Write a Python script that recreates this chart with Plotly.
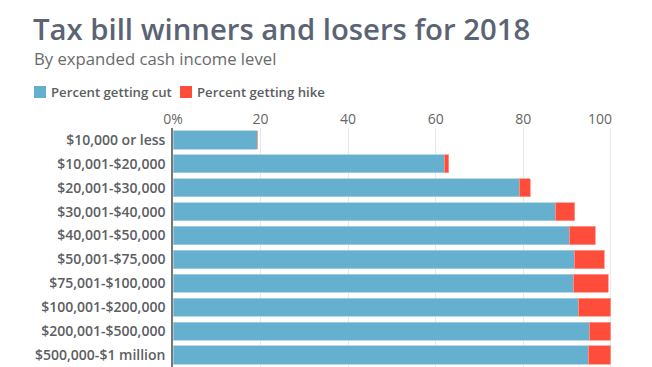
import plotly.graph_objects as go

categories = ["$10,000 or less", "$10,001-$20,000", "$20,001-$30,000", "$30,001-$40,000",
              "$40,001-$50,000", "$50,001-$75,000", "$75,001-$100,000", "$100,001-$200,000",
              "$200,001-$500,000", "$500,000-$1 million"]
pct_cut = [19.2, 61.9, 79.1, 87.3, 90.5, 91.6, 91.4, 92.6, 95.1, 94.9]
pct_hike = [0.0, 1.1, 2.5, 4.5, 5.9, 6.9, 8.0, 7.4, 4.9, 5.1]
tick_vals = [0, 20, 40, 60, 80, 100]
tick_text = ["0%", "20", "40", "60", "80", "100" + "\u00a0" * 6]

BLUE = "#65b0cf"
RED = "#fe4d3a"
GRAY = "#5b5e63"
FONT = "Open Sans"

L, R, T, B = 173, 39, 128, 0
PW = 652 - L - R
PH = 367 - T - B

fig = go.Figure()
fig.add_trace(go.Bar(y=categories, x=pct_cut, orientation="h", name="Percent getting cut",
                     marker=dict(color=BLUE, line=dict(color="#a9d2e3", width=0.8))))
fig.add_trace(go.Bar(y=categories, x=pct_hike, orientation="h", name="Percent getting hike",
                     marker=dict(color=RED, line=dict(color="#ff9a8e", width=0.8))))

fig.update_layout(
    width=652, height=367,
    barmode="stack", bargap=0.24,
    showlegend=False,
    paper_bgcolor="white", plot_bgcolor="white",
    margin=dict(l=L, r=R, t=T, b=B, autoexpand=False),
    font=dict(family=FONT, color=GRAY),
    xaxis=dict(range=[0, 100.5], side="top", tickvals=tick_vals, ticktext=tick_text,
               showgrid=True, gridcolor="#e8e8e8", gridwidth=1, zeroline=False,
               ticks="", tickfont=dict(size=14, color="#666666", family=FONT, weight=500),
               automargin=False, fixedrange=True),
    yaxis=dict(categoryorder="array", categoryarray=categories, autorange=False,
               range=[9.5, -0.5], showline=True, linecolor="#777777", linewidth=1.5,
               ticks="", ticklabelstandoff=3, automargin=False,
               tickfont=dict(size=14, color=GRAY, family=FONT, weight=600),
               showgrid=False, fixedrange=True),
)


def px_x(p):
    return (p - L) / PW


def px_y(p):
    return 1 + (T - p) / PH


fig.add_annotation(text="Tax bill winners and losers for 2018", xref="paper", yref="paper",
                   x=px_x(31), y=px_y(29), xanchor="left", yanchor="middle",
                   showarrow=False, font=dict(size=29.3, color="#5b6474", family=FONT, weight=600))
fig.add_annotation(text="By expanded cash income level", xref="paper", yref="paper",
                   x=px_x(32), y=px_y(58), xanchor="left", yanchor="middle",
                   showarrow=False, font=dict(size=16.7, color="#6a6a6a", family=FONT))

# legend (manual)
for x0, col, label in [(34, BLUE, "Percent getting cut"), (180, RED, "Percent getting hike")]:
    fig.add_shape(type="rect", xref="paper", yref="paper", x0=px_x(x0), x1=px_x(x0 + 12),
                  y0=px_y(98), y1=px_y(86), fillcolor=col, line=dict(width=0))
    fig.add_annotation(text=label, xref="paper", yref="paper", x=px_x(x0 + 15), y=px_y(92),
                       xanchor="left", yanchor="middle", showarrow=False,
                       font=dict(size=13.2, color=GRAY, family=FONT, weight=600))

fig.write_html("out.html", config={"displayModeBar": False},
               post_script="document.body.style.margin='0';")
